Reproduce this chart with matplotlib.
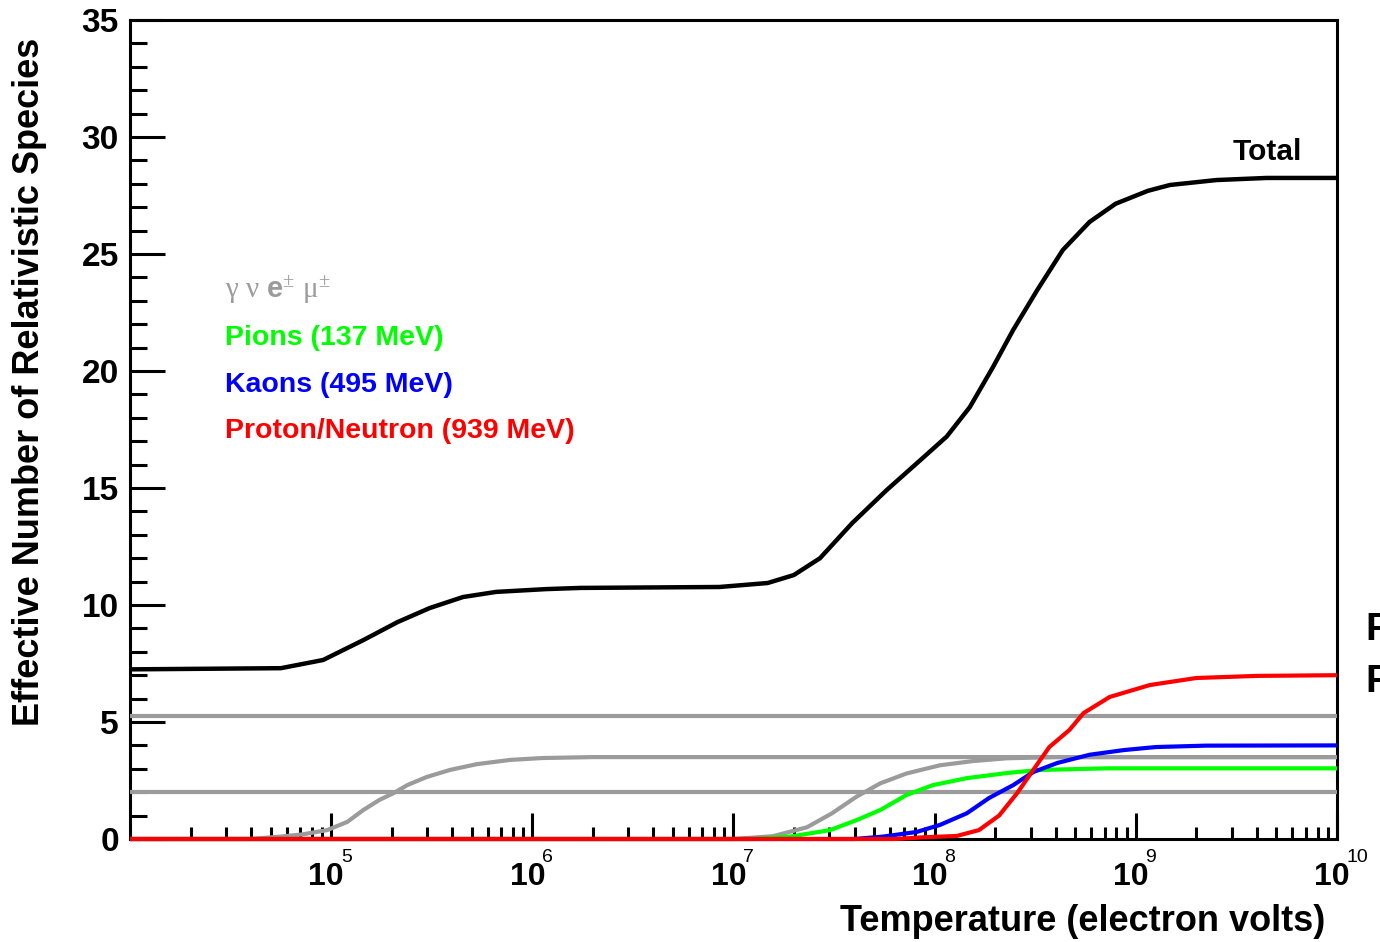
#!/usr/bin/env python3
"""
Effective number of relativistic species vs temperature.
"""

import numpy as np
import matplotlib.pyplot as plt

plt.rcParams['font.family'] = 'Liberation Sans'
plt.rcParams['mathtext.fontset'] = 'custom'
plt.rcParams['mathtext.rm'] = 'Liberation Serif'
plt.rcParams['mathtext.it'] = 'Liberation Serif'
plt.rcParams['mathtext.bf'] = 'Liberation Sans:bold'

# ============================================================================
# DATA (x = log10(T / eV))
# ============================================================================

photon_level = 2.0
neutrino_level = 5.25

electron_logT = [4.0, 4.6, 4.745, 4.86, 4.98, 5.08, 5.16, 5.24, 5.31, 5.38, 5.475,
                 5.59, 5.725, 5.89, 6.05, 6.3, 10.0]
electron_g = [0, 0, 0.1, 0.2, 0.38, 0.73, 1.24, 1.67, 1.96, 2.31, 2.65,
              2.95, 3.2, 3.38, 3.46, 3.5, 3.5]

muon_logT = [4.0, 7.0, 7.196, 7.365, 7.49, 7.61, 7.73, 7.86, 8.026, 8.19, 8.36, 8.6, 10.0]
muon_g = [0, 0, 0.12, 0.5, 1.1, 1.8, 2.38, 2.8, 3.15, 3.33, 3.45, 3.5, 3.5]

pion_logT = [4.0, 7.1, 7.28, 7.48, 7.61, 7.73, 7.86, 7.99, 8.16, 8.36, 8.52, 8.86, 10.0]
pion_g = [0, 0, 0.1, 0.38, 0.8, 1.24, 1.88, 2.3, 2.6, 2.82, 2.95, 3.02, 3.02]

kaon_logT = [4.0, 7.6, 7.74, 7.91, 8.026, 8.16, 8.27, 8.39, 8.49, 8.61, 8.77, 8.94,
             9.1, 9.35, 10.0]
kaon_g = [0, 0, 0.1, 0.3, 0.6, 1.1, 1.75, 2.3, 2.86, 3.25, 3.6, 3.8,
          3.93, 3.99, 4.0]

nucleon_logT = [4.0, 7.8, 7.94, 8.11, 8.22, 8.32, 8.41, 8.49, 8.57, 8.67, 8.74, 8.87,
                9.07, 9.3, 9.6, 10.0]
nucleon_g = [0, 0, 0.07, 0.13, 0.38, 1.0, 1.96, 2.95, 3.93, 4.66, 5.38, 6.07,
             6.58, 6.88, 6.97, 7.0]

total_logT = [4.0, 4.75, 4.96, 5.16, 5.33, 5.49, 5.655, 5.82, 6.07, 6.24, 6.93, 7.17,
              7.3, 7.43, 7.59, 7.76, 7.93, 8.06, 8.175, 8.29, 8.39, 8.51, 8.637,
              8.77, 8.9, 9.06, 9.17, 9.4, 9.65, 10.0]
total_g = [7.25, 7.3, 7.65, 8.5, 9.27, 9.87, 10.34, 10.56, 10.68, 10.73, 10.77, 10.94,
           11.28, 12.0, 13.5, 14.9, 16.2, 17.2, 18.46, 20.17, 21.75, 23.46, 25.17,
           26.37, 27.15, 27.7, 27.95, 28.16, 28.25, 28.25]

decades = [5, 6, 7, 8, 9, 10]

GREY = '#9b9b9b'

# ============================================================================

fig = plt.figure(figsize=(13.8, 9.42), dpi=100)
ax = fig.add_axes([130 / 1380, 103 / 942, 1207 / 1380, 819 / 942])

T = lambda lt: 10.0 ** np.asarray(lt)

line_kw = dict(lw=3.0, zorder=3, clip_on=False, solid_capstyle='butt')
ax.axhline(neutrino_level, color=GREY, **line_kw)
ax.axhline(photon_level, color=GREY, **line_kw)
ax.plot(T(electron_logT), electron_g, color=GREY, **line_kw)
ax.plot(T(muon_logT), muon_g, color=GREY, **line_kw)
ax.plot(T(pion_logT), pion_g, color='#00ff00', **line_kw)
ax.plot(T(kaon_logT), kaon_g, color='#0000ff', **line_kw)
ax.plot(T(nucleon_logT), nucleon_g, color='#ff0000', **line_kw)
ax.plot(T(total_logT), total_g, color='black', lw=3.2, zorder=3)

ax.set_xscale('log')
ax.set_xlim(1e4, 1e10)
ax.set_ylim(0, 35)

for s in ax.spines.values():
    s.set_linewidth(2.2)

ax.set_yticks(np.arange(0, 36, 5))
ax.set_yticks(np.arange(0, 36, 1), minor=True)
ax.tick_params(axis='y', which='major', direction='in', length=25, width=2.2,
               labelsize=24, pad=8, right=False)
ax.tick_params(axis='y', which='minor', direction='in', length=12, width=2.2, right=False)
for lab in ax.get_yticklabels():
    lab.set_fontweight('bold')

ax.set_xticks([10.0 ** k for k in decades])
ax.set_xticks([m * 10.0 ** k for k in range(4, 10) for m in range(2, 10)], minor=True)
ax.set_xticklabels([])
ax.tick_params(axis='x', which='major', direction='in', length=19, width=2.2, top=False)
ax.tick_params(axis='x', which='minor', direction='in', length=9, width=2.2, top=False)

for k in decades:
    ax.annotate('10', xy=(10.0 ** k, 0), xytext=(-3.5, -16.5), textcoords='offset points',
                ha='center', va='top', fontsize=23, fontweight='bold', annotation_clip=False)
    ax.annotate(str(k), xy=(10.0 ** k, 0), xytext=(7, -16.5), textcoords='offset points',
                ha='left', va='baseline', fontsize=14, annotation_clip=False)

# axis titles
fig.text(0.960, 1 - 931 / 942, 'Temperature (electron volts)', ha='right', va='baseline',
         fontsize=26, fontweight='bold')
fig.text(30 / 1380, 1 - 38 / 942, 'Effective Number of Relativistic Species', rotation=90,
         ha='center', va='top', fontsize=26, fontweight='bold')

# labels
ax.text(0.0787, 0.6606, r'$\gamma\ \nu\ \mathbf{e}^{\pm}\ \mu^{\pm}$', transform=ax.transAxes,
        color=GREY, fontsize=21, va='baseline')
ax.text(0.0787, 0.603, 'Pions (137 MeV)', transform=ax.transAxes, color='#00ff00',
        fontsize=20.5, fontweight='bold', va='baseline')
ax.text(0.0787, 0.5458, 'Kaons (495 MeV)', transform=ax.transAxes, color='#0000ff',
        fontsize=20.5, fontweight='bold', va='baseline')
ax.text(0.0787, 0.4896, 'Proton/Neutron (939 MeV)', transform=ax.transAxes, color='#ff0000',
        fontsize=20.5, fontweight='bold', va='baseline')
ax.text(0.9138, 0.829, 'Total', transform=ax.transAxes, color='black',
        fontsize=21.5, fontweight='bold', va='baseline')

# text cut off at the right edge in the reference
fig.text(1365 / 1380, 1 - 640 / 942, 'P', fontsize=28, fontweight='bold', va='baseline')
fig.text(1365 / 1380, 1 - 692 / 942, 'P', fontsize=28, fontweight='bold', va='baseline')

fig.savefig('out.png', dpi=100)
